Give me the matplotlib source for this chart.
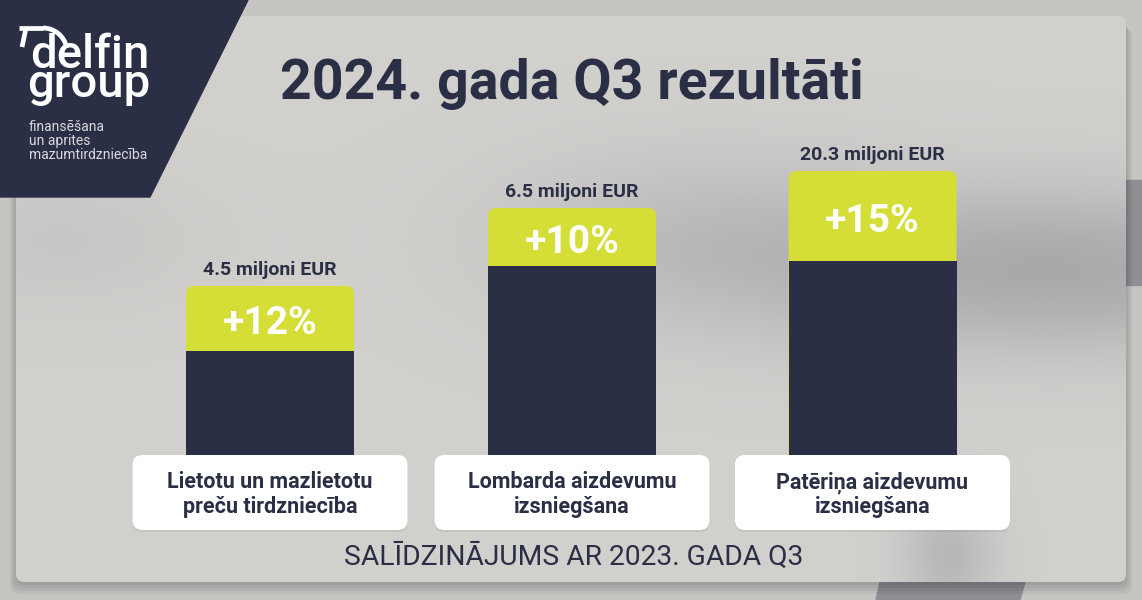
import matplotlib.pyplot as plt
import numpy as np
from matplotlib.patches import FancyBboxPatch, Polygon, Arc

# Data read from the infographic
categories = ["Lietotu un mazlietotu\npreču tirdzniecība",
              "Lombarda aizdevumu\nizsniegšana",
              "Patēriņa aizdevumu\nizsniegšana"]
revenue = ["4.5 miljoni EUR", "6.5 miljoni EUR", "20.3 miljoni EUR"]
growth = [12, 10, 15]                 # % vs 2023 Q3
bar_height = [194, 272, 309]          # drawn bar levels (not to scale with revenue)
growth_band = [65, 58, 90]            # height of the lime part of each bar

NAVY = '#2a2f45'
LIME = '#d4de37'
PANEL = '#d1d0cd'
BG = '#c6c5c2'

plt.rcParams['font.family'] = ['Roboto', 'DejaVu Sans']

fig = plt.figure(figsize=(11.42, 6), dpi=100)
fig.patch.set_facecolor(BG)
ax = fig.add_axes([0, 0, 1, 1])
ax.set_xlim(0, 1142)
ax.set_ylim(0, 600)
ax.axis('off')

# background photo bits
ax.add_patch(Polygon([(1126, 420), (1142, 420), (1142, 315), (1126, 315)], color='#8f8e93', zorder=0))
ax.add_patch(Polygon([(880, 18), (1025, 18), (1020, 0), (876, 0)], color='#8f8e93', zorder=0))

# panel with soft shadow
for i in range(4):
    ax.add_patch(FancyBboxPatch((16 - 2 * i, 15 - 3 * i), 1110 + 4 * i, 566, boxstyle='round,pad=0,rounding_size=10',
                                fc='black', ec='none', alpha=0.05, zorder=1))
ax.add_patch(FancyBboxPatch((16, 18), 1110, 566, boxstyle='round,pad=0,rounding_size=8',
                            fc=PANEL, ec='none', zorder=2))

# blurry shadow inside the panel
gx, gy = np.meshgrid(np.linspace(16, 1126, 400), np.linspace(18, 584, 200))
blob = 0.55 * np.exp(-((gx - 1060) / 280) ** 2 - ((gy - 330) / 80) ** 2)
blob += 0.25 * np.exp(-((gx - 700) / 200) ** 2 - ((gy - 360) / 90) ** 2)
blob += 0.35 * np.exp(-((gx - 950) / 45) ** 2 - ((gy - 45) / 60) ** 2)
blob += 0.12 * np.exp(-((gx - 60) / 150) ** 2 - ((gy - 360) / 70) ** 2)
rgba = np.zeros(gx.shape + (4,))
rgba[..., :3] = np.array([0x8a, 0x89, 0x90]) / 255
rgba[..., 3] = np.clip(blob, 0, 1)
ax.imshow(rgba, extent=(16, 1126, 18, 584), origin='lower', aspect='auto', zorder=3, interpolation='bilinear')

# logo
ax.add_patch(Polygon([(0, 600), (248, 600), (150, 403), (0, 403)], color=NAVY, zorder=4))
ax.add_patch(Arc((43, 548), 48, 48, theta1=10, theta2=90, color='white', lw=3.4, zorder=5))
ax.plot([19, 43], [572, 572], color='white', lw=3.4, solid_capstyle='butt', zorder=5)
ax.plot([26, 22], [572, 553], color='white', lw=3.4, solid_capstyle='butt', zorder=5)
ax.text(150, 503, "delfin\ngroup", color='white', fontsize=34, fontweight='medium',
        ha='right', va='baseline', multialignment='right', linespacing=0.58, zorder=5)
ax.text(29, 480, "finansēšana\nun aprites\nmazumtirdzniecība", color='#d8d9de', fontsize=10,
        ha='left', va='top', linespacing=1.0, zorder=5)

# title
ax.text(280, 501, "2024. gada Q3 rezultāti", color=NAVY, fontsize=40, fontweight='bold',
        ha='left', va='baseline', zorder=6)

# bars
x = np.array([270, 572, 872.5])
base = 120
tops = ax.bar(x, bar_height, 168, bottom=base, color=LIME, zorder=6)
for r in tops:
    r.set_visible(False)
    ax.add_patch(FancyBboxPatch(r.get_xy(), r.get_width(), r.get_height(),
                                boxstyle='round,pad=0,rounding_size=8', fc=LIME, ec='none', zorder=6))
ax.bar(x, np.array(bar_height) - np.array(growth_band), 168, bottom=base, color=NAVY, zorder=7)

for xi, h, g, rev, pct in zip(x, bar_height, growth_band, revenue, growth):
    top = base + h
    ax.text(xi, top + 11, rev, color=NAVY, fontsize=14, fontweight='bold', ha='center', va='baseline', zorder=8)
    ax.text(xi, top - g / 2 - 16, f"+{pct}%", color='white', fontsize=28, fontweight='bold',
            ha='center', va='baseline', zorder=8)

# category label boxes
for xi, lab in zip(x, categories):
    ax.add_patch(FancyBboxPatch((xi - 137.5, 68), 275, 75, boxstyle='round,pad=0,rounding_size=10',
                                fc='black', ec='none', alpha=0.06, zorder=8))
    ax.add_patch(FancyBboxPatch((xi - 137.5, 70), 275, 75, boxstyle='round,pad=0,rounding_size=10',
                                fc='white', ec='none', zorder=9))
    for k, line in enumerate(lab.split('\n')):
        ax.text(xi, 112 - 25 * k, line, color=NAVY, fontsize=15.5, fontweight='bold',
                ha='center', va='baseline', zorder=10)

ax.text(574, 35, "SALĪDZINĀJUMS AR 2023. GADA Q3", color=NAVY, fontsize=20.3,
        ha='center', va='baseline', zorder=10)

fig.savefig('out.png', dpi=100, facecolor=BG)
